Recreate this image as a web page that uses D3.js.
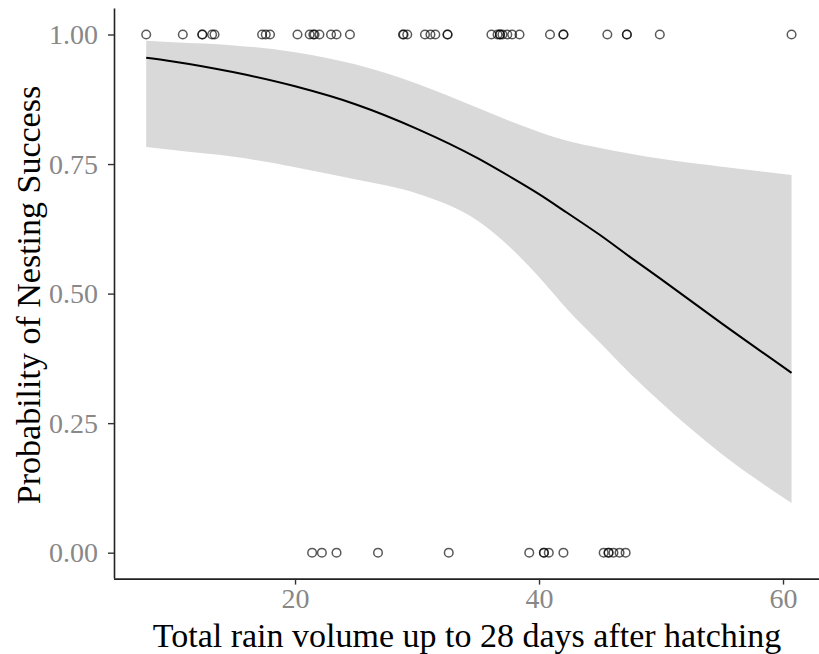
<!DOCTYPE html>
<html>
<head>
<meta charset="utf-8">
<script src="https://cdn.jsdelivr.net/npm/d3@7"></script>
<style>
  html, body { margin: 0; padding: 0; background: #fff; }
  svg { display: block; }
  text { font-family: "Liberation Serif", "Times New Roman", serif; }
</style>
</head>
<body>
<svg id="chart" width="819" height="654"></svg>
<script>
// Observed nests: rain volume (mm) for successful (1) and failed (0) nests
const successRain = [7.8, 10.8, 12.4, 12.4, 13.2, 13.4, 17.3, 17.6, 17.95, 20.2, 21.2, 21.5, 21.6, 22.0,
  22.95, 23.4, 24.5, 28.85, 28.9, 29.2, 30.65, 31.1, 31.5, 32.5, 32.5, 36.1, 36.6, 36.8, 36.8, 37.0,
  37.4, 37.8, 38.4, 40.9, 42.0, 42.0, 45.6, 47.2, 47.2, 49.9, 60.7];
const failRain = [21.4, 22.2, 23.4, 26.8, 32.6, 39.2, 40.4, 40.4, 40.8, 42.0, 45.3, 45.7, 45.7,
  46.1, 46.6, 47.1];

// Fitted probability of nesting success and its confidence band
const fitRain  = [7.8, 10, 15, 20, 25, 30, 35, 37.6, 40, 42.3, 45, 47.5, 50, 55, 60.7];
const fitProb  = [0.955, 0.948, 0.927, 0.900, 0.865, 0.818, 0.761, 0.726, 0.692, 0.656, 0.613, 0.570, 0.528, 0.442, 0.347];
const fitLower = [0.783, 0.777, 0.764, 0.744, 0.720, 0.693, 0.640, 0.590, 0.532, 0.470, 0.405, 0.345, 0.290, 0.190, 0.096];
const fitUpper = [0.988, 0.985, 0.979, 0.966, 0.942, 0.905, 0.858, 0.833, 0.812, 0.795, 0.781, 0.770, 0.760, 0.745, 0.729];

// Axis ticks
const xTicks = [20, 40, 60];
const yTicks = [0, 0.25, 0.5, 0.75, 1];

const svg = d3.select("#chart");
const W = 819, H = 654;
const plot = { left: 114, right: 819, top: 8.6, bottom: 578.6 };

const x = d3.scaleLinear().domain([5.16, 62.95]).range([plot.left, plot.right]);
const y = d3.scaleLinear().domain([-0.05, 1.05]).range([plot.bottom, plot.top]);

const fit = fitRain.map((r, i) => ({ r, p: fitProb[i], lo: fitLower[i], hi: fitUpper[i] }));

// Confidence ribbon
svg.append("path")
  .datum(fit)
  .attr("fill", "#d9d9d9")
  .attr("d", d3.area()
    .x(d => x(d.r))
    .y0(d => y(d.lo))
    .y1(d => y(d.hi))
    .curve(d3.curveMonotoneX));

// Fitted line
svg.append("path")
  .datum(fit)
  .attr("fill", "none")
  .attr("stroke", "#000")
  .attr("stroke-width", 2)
  .attr("d", d3.line()
    .x(d => x(d.r))
    .y(d => y(d.p))
    .curve(d3.curveMonotoneX));

// Observed outcomes as open circles
const obs = successRain.map(r => ({ r, v: 1 })).concat(failRain.map(r => ({ r, v: 0 })));
svg.append("g")
  .selectAll("circle")
  .data(obs)
  .join("circle")
  .attr("cx", d => x(d.r))
  .attr("cy", d => y(d.v))
  .attr("r", 4.3)
  .attr("fill", "none")
  .attr("stroke", "#000")
  .attr("stroke-opacity", 0.65)
  .attr("stroke-width", 1.5);

// Axes
const tickColor = "#333";
const labelColor = "#888";

const xAxis = svg.append("g")
  .attr("transform", `translate(0,${plot.bottom})`)
  .call(d3.axisBottom(x).tickValues(xTicks).tickFormat(d3.format("d")).tickSizeOuter(0).tickSize(6).tickPadding(4));
const yAxis = svg.append("g")
  .attr("transform", `translate(${plot.left},0)`)
  .call(d3.axisLeft(y).tickValues(yTicks).tickFormat(d3.format(".2f")).tickSizeOuter(0).tickSize(6).tickPadding(10));

[xAxis, yAxis].forEach(g => {
  g.select(".domain").attr("stroke", "#222").attr("stroke-width", 1.6);
  g.selectAll(".tick line").attr("stroke", tickColor).attr("stroke-width", 1.4);
  g.selectAll(".tick text").attr("fill", labelColor).attr("font-size", 28)
    .attr("font-family", "'Liberation Serif', 'Times New Roman', serif");
});
xAxis.select(".domain").attr("d", `M${plot.left},0.5H${W}`);
yAxis.select(".domain").attr("d", `M0.5,${plot.top}V${plot.bottom}`);

// Axis titles
svg.append("text")
  .attr("x", 467)
  .attr("y", 647)
  .attr("text-anchor", "middle")
  .attr("font-size", 34)
  .attr("fill", "#000")
  .text("Total rain volume up to 28 days after hatching");

svg.append("text")
  .attr("transform", `translate(40,295) rotate(-90)`)
  .attr("text-anchor", "middle")
  .attr("font-size", 34)
  .attr("fill", "#000")
  .text("Probability of Nesting Success");
</script>
</body>
</html>
